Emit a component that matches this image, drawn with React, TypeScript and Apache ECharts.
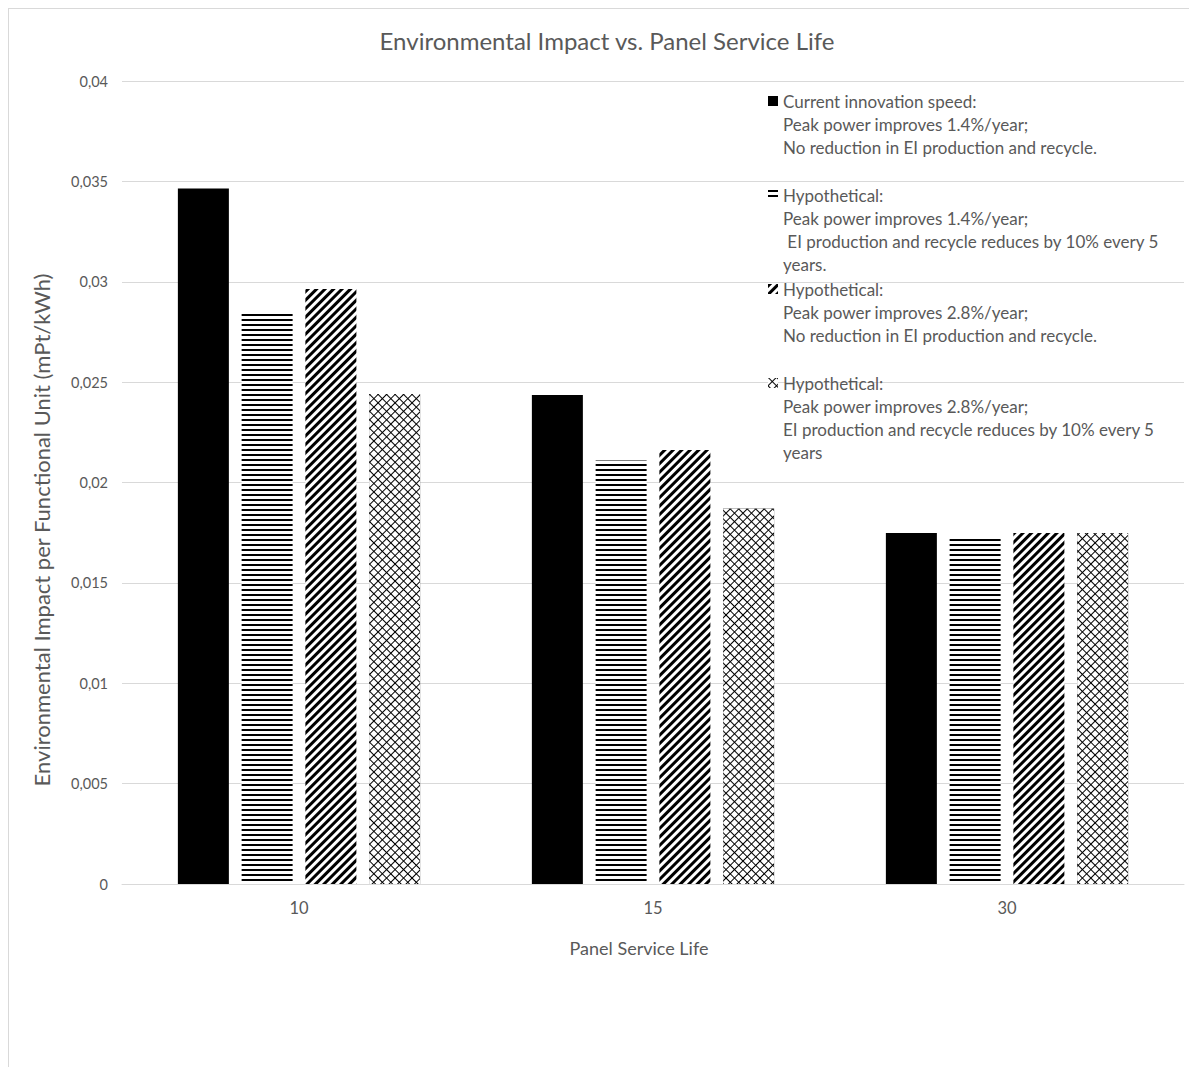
import { useEffect, useRef } from 'react';
import * as echarts from 'echarts';

// Panel service life (years) on the category axis
const categories = ['10', '15', '30'];

// Environmental impact per functional unit (mPt/kWh) for each scenario
const currentSpeed = [0.03465, 0.02436, 0.01748];
const hyp14Reduced = [0.02849, 0.0211, 0.01733];
const hyp28 = [0.02964, 0.02162, 0.01748];
const hyp28Reduced = [0.02441, 0.0187, 0.01748];

// Legend text, one line per entry row
const scenarioLines = [
  ['Current innovation speed:', 'Peak power improves 1.4%/year;', 'No reduction in EI production and recycle.'],
  ['Hypothetical:', 'Peak power improves 1.4%/year;', ' EI production and recycle reduces by 10% every 5', 'years.'],
  ['Hypothetical:', 'Peak power improves 2.8%/year;', 'No reduction in EI production and recycle.'],
  ['Hypothetical:', 'Peak power improves 2.8%/year;', 'EI production and recycle reduces by 10% every 5', 'years'],
];
const scenarioValues = [currentSpeed, hyp14Reduced, hyp28, hyp28Reduced];

const FONT = 'Lato';
const GREY = '#595959';
const RULE = '#d9d9d9';

// Monochrome fills: solid, horizontal lines, diagonal stripes, diamond lattice
const fills: any[] = [
  { color: '#000000' },
  {
    color: '#ffffff',
    decal: { symbol: 'rect', symbolSize: 1, dashArrayX: [1, 0], dashArrayY: [2, 3], rotation: 0, color: '#000000' },
  },
  {
    color: '#ffffff',
    decal: { symbol: 'rect', symbolSize: 1, dashArrayX: [1, 0], dashArrayY: [3, 3], rotation: -Math.PI / 4, color: '#000000' },
  },
  {
    color: '#000000',
    decal: { symbol: 'rect', symbolSize: 1, dashArrayX: [5, 1], dashArrayY: [5, 1], rotation: Math.PI / 4, color: '#ffffff' },
  },
];

const LEGEND_X = 774;
const LEGEND_FIRST_Y = 92;
const LEGEND_STEP = 94;
const LINE_STEP = 23;

export default function App() {
  const ref = useRef<HTMLDivElement>(null);

  useEffect(() => {
    if (!ref.current) return;
    const chart = echarts.init(ref.current, null, { renderer: 'svg' });

    const names = scenarioLines.map((lines) => lines.join('\n'));

    const continuation: any[] = [];
    scenarioLines.forEach((lines, i) => {
      lines.slice(1).forEach((line, k) => {
        continuation.push({
          type: 'text',
          x: LEGEND_X,
          y: LEGEND_FIRST_Y + i * LEGEND_STEP + (k + 1) * LINE_STEP,
          style: {
            text: line,
            fill: GREY,
            fontFamily: FONT,
            fontSize: 17,
            align: 'left',
            verticalAlign: 'middle',
            textAlign: 'left',
            textVerticalAlign: 'middle',
          },
        });
      });
    });

    chart.setOption({
      animation: false,
      backgroundColor: '#ffffff',
      title: {
        text: 'Environmental Impact vs. Panel Service Life',
        left: 598,
        top: 19,
        padding: 0,
        textAlign: 'center',
        textStyle: { fontFamily: FONT, fontSize: 24, fontWeight: 'normal', color: GREY },
      },
      grid: { left: 113, top: 72, width: 1062, height: 803, containLabel: false },
      legend: {
        orient: 'vertical',
        left: 759,
        top: 82,
        padding: 0,
        itemWidth: 10,
        itemHeight: 10,
        itemGap: 74,
        icon: 'rect',
        selectedMode: false,
        data: names,
        formatter: (name: string) => name.split('\n')[0],
        textStyle: { fontFamily: FONT, fontSize: 17, color: GREY, lineHeight: 20 },
      },
      xAxis: {
        type: 'category',
        data: categories,
        axisLine: { lineStyle: { color: RULE, width: 1 } },
        axisTick: { show: false },
        axisLabel: { color: GREY, fontFamily: FONT, fontSize: 16.5, margin: 15 },
      },
      yAxis: {
        type: 'value',
        min: 0,
        max: 0.04,
        interval: 0.005,
        axisLine: { show: false },
        axisTick: { show: false },
        splitLine: { lineStyle: { color: RULE, width: 1 } },
        axisLabel: {
          color: GREY,
          fontFamily: FONT,
          fontSize: 14.5,
          margin: 14,
          formatter: (v: number) => (v === 0 ? '0' : String(+v.toFixed(3)).replace('.', ',')),
        },
      },
      series: scenarioValues.map((values, i) => ({
        type: 'bar',
        name: names[i],
        data: values,
        barWidth: 51,
        barGap: '25%',
        itemStyle: fills[i],
      })),
      graphic: [
        {
          type: 'text',
          x: 32,
          y: 521,
          rotation: Math.PI / 2,
          style: {
            text: 'Environmental Impact per Functional Unit (mPt/kWh)',
            fill: GREY,
            fontFamily: FONT,
            fontSize: 22,
            align: 'center',
            verticalAlign: 'middle',
            textAlign: 'center',
            textVerticalAlign: 'middle',
          },
        },
        {
          type: 'text',
          x: 630,
          y: 939,
          style: {
            text: 'Panel Service Life',
            fill: GREY,
            fontFamily: FONT,
            fontSize: 18,
            align: 'center',
            verticalAlign: 'middle',
            textAlign: 'center',
            textVerticalAlign: 'middle',
          },
        },
        ...continuation,
      ],
    });

    return () => chart.dispose();
  }, []);

  return (
    <div
      style={{
        position: 'relative',
        width: 1189,
        height: 1059,
        border: '1px solid #d9d9d9',
        borderBottom: 'none',
        boxSizing: 'border-box',
        background: '#ffffff',
      }}
    >
      <div ref={ref} style={{ position: 'absolute', left: 0, top: 0, width: 1187, height: 1058 }} />
    </div>
  );
}
